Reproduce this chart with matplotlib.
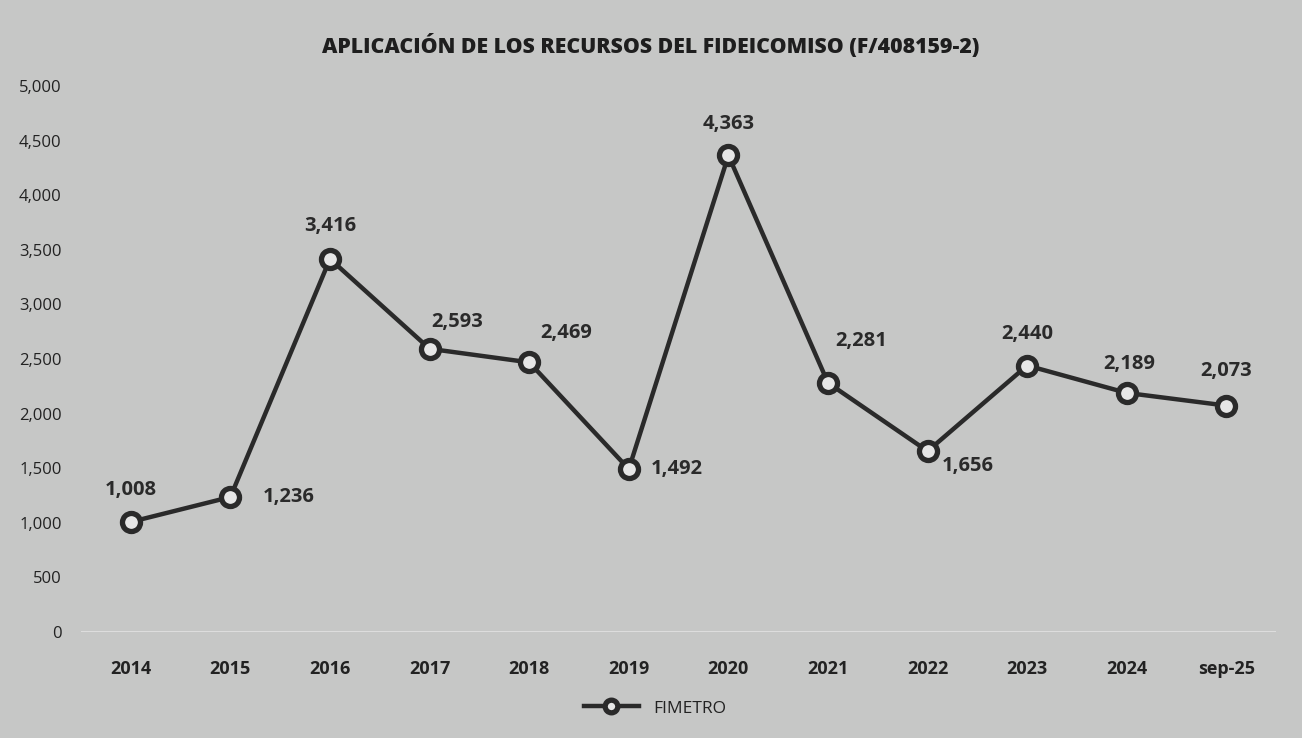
import matplotlib.pyplot as plt
from matplotlib.ticker import FuncFormatter, MultipleLocator

categories = ["2014", "2015", "2016", "2017", "2018", "2019",
              "2020", "2021", "2022", "2023", "2024", "sep-25"]
fimetro = [1008, 1236, 3416, 2593, 2469, 1492, 4363, 2281, 1656, 2440, 2189, 2073]

# label offsets in points (dx, dy, ha)
label_pos = [(0, 23, "center"), (23, 0, "left"), (0, 24, "center"), (1, 19, "left"),
             (8, 21, "left"), (16, 0, "left"), (0, 23, "center"), (5, 30, "left"),
             (10, -11, "left"), (0, 23, "center"), (2, 21, "center"), (0, 25, "center")]

bg = "#c6c7c6"
dark = "#2a2a2a"

plt.rcParams["font.family"] = ["Open Sans", "DejaVu Sans"]

fig = plt.figure(figsize=(13.02, 7.38), dpi=100, facecolor=bg)
ax = fig.add_axes([0.0622, 0.1436, 0.918, 0.74])
ax.set_facecolor(bg)

x = list(range(len(categories)))
ax.plot(x, fimetro, color=dark, lw=3.2, marker="o", ms=13,
        mfc="#e6e6e6", mec=dark, mew=3.8, label="FIMETRO", zorder=3)

for xi, v, (dx, dy, ha) in zip(x, fimetro, label_pos):
    ax.annotate(f"{v:,}", (xi, v), xytext=(dx, dy), textcoords="offset points",
                ha=ha, va="center", fontsize=14.5, fontweight="bold", color=dark)

ax.set_xlim(-0.5, len(categories) - 0.5)
ax.set_ylim(0, 5000)
ax.yaxis.set_major_locator(MultipleLocator(500))
ax.yaxis.set_major_formatter(FuncFormatter(lambda v, p: f"{int(v):,}"))
ax.set_xticks(x)
ax.set_xticklabels(categories, fontweight="bold")
ax.tick_params(axis="both", length=0, colors="#222222")
ax.tick_params(axis="x", pad=20, labelsize=13)
ax.tick_params(axis="y", pad=14, labelsize=12)

for s in ax.spines.values():
    s.set_visible(False)
ax.axhline(0, color="#e2e2e2", lw=1.2, zorder=1)

fig.text(0.5, 0.938, "APLICACIÓN DE LOS RECURSOS DEL FIDEICOMISO (F/408159-2)",
         ha="center", va="center", fontsize=15.3, fontweight="heavy", color="#1e1e1e")

leg = fig.legend(loc="center", bbox_to_anchor=(0.503, 0.04), frameon=False,
                 fontsize=12.5, handlelength=3.2, markerscale=0.7)
for t in leg.get_texts():
    t.set_color("#222222")

fig.savefig("out.png", dpi=100, facecolor=bg)
